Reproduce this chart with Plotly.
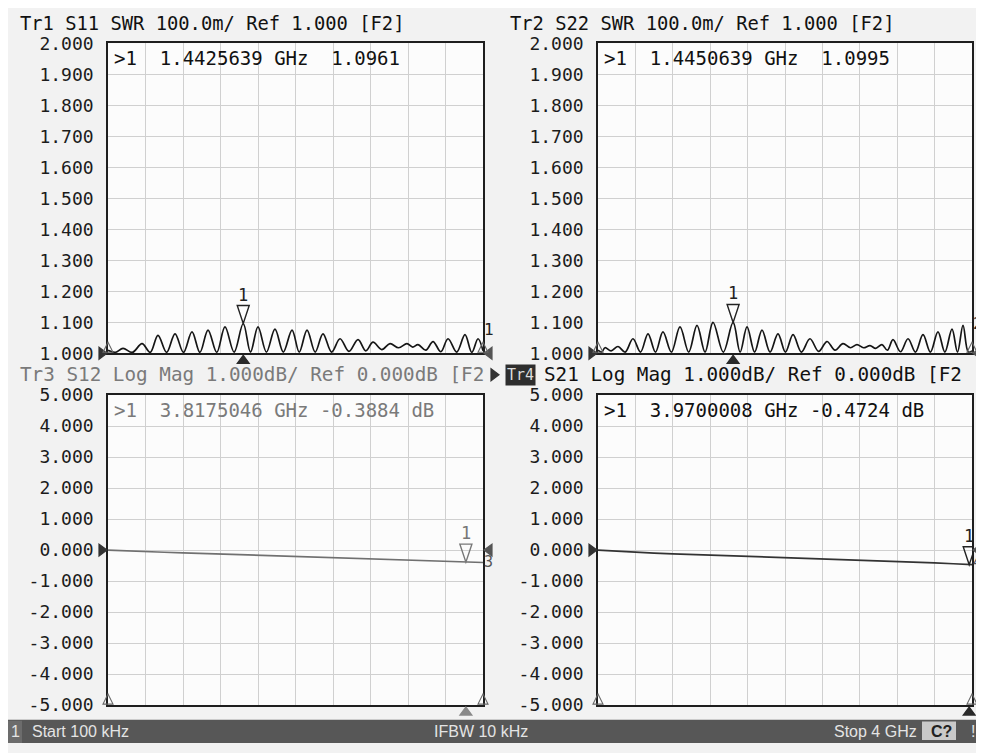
import plotly.graph_objects as go

# ---------------- data ----------------
S11_FREQ = [0.0001, 0.08, 0.16, 0.26, 0.363, 0.45, 0.533, 0.625, 0.715, 0.805, 0.896, 0.98,
            1.067, 1.16, 1.248, 1.345, 1.4425639, 1.52, 1.60, 1.69, 1.781, 1.87, 1.963, 2.04,
            2.123, 2.21, 2.293, 2.385, 2.475, 2.57, 2.667, 2.75, 2.827, 2.92, 3.008, 3.10,
            3.189, 3.25, 3.307, 3.39, 3.467, 3.55, 3.627, 3.72, 3.808, 3.88, 3.947, 4.0]
S11_SWR = [1.010, 1.003, 1.016, 1.003, 1.031, 1.003, 1.058, 1.003, 1.063, 1.003, 1.069, 1.003,
           1.075, 1.003, 1.085, 1.004, 1.0961, 1.004, 1.085, 1.004, 1.078, 1.004, 1.075, 1.004,
           1.075, 1.004, 1.063, 1.004, 1.047, 1.006, 1.044, 1.008, 1.036, 1.012, 1.031, 1.018,
           1.031, 1.020, 1.028, 1.010, 1.038, 1.005, 1.047, 1.004, 1.060, 1.003, 1.047, 1.008]

S22_FREQ = [0.0001, 0.04, 0.075, 0.14, 0.214, 0.29, 0.374, 0.455, 0.535, 0.615, 0.695, 0.785,
            0.877, 0.97, 1.059, 1.145, 1.230, 1.34, 1.4450639, 1.52, 1.594, 1.675, 1.754, 1.84,
            1.925, 2.005, 2.086, 2.175, 2.267, 2.36, 2.449, 2.535, 2.620, 2.70, 2.770, 2.84,
            2.909, 2.97, 3.037, 3.095, 3.155, 3.235, 3.316, 3.395, 3.476, 3.555, 3.636, 3.71,
            3.786, 3.845, 3.904, 3.96, 4.0]
S22_SWR = [1.010, 1.004, 1.018, 1.008, 1.022, 1.004, 1.047, 1.004, 1.063, 1.004, 1.069, 1.004,
           1.085, 1.004, 1.090, 1.004, 1.100, 1.004, 1.0995, 1.004, 1.085, 1.004, 1.075, 1.004,
           1.063, 1.004, 1.060, 1.004, 1.047, 1.006, 1.038, 1.010, 1.031, 1.018, 1.028, 1.018,
           1.025, 1.016, 1.028, 1.010, 1.044, 1.005, 1.047, 1.004, 1.060, 1.004, 1.069, 1.004,
           1.078, 1.004, 1.090, 1.004, 1.008]

S12_FREQ = [0.0001, 0.2, 0.4, 0.6, 0.8, 1.0, 1.2, 1.4, 1.6, 1.8, 2.0, 2.2, 2.4, 2.6, 2.8,
            3.0, 3.2, 3.4, 3.6, 3.8175046, 4.0]
S12_DB = [0.0, -0.03, -0.05, -0.07, -0.09, -0.11, -0.13, -0.15, -0.17, -0.19, -0.21, -0.23,
          -0.25, -0.27, -0.28, -0.30, -0.32, -0.34, -0.36, -0.3884, -0.40]

S21_FREQ = [0.0001, 0.2, 0.4, 0.6, 0.8, 1.0, 1.2, 1.4, 1.6, 1.8, 2.0, 2.2, 2.4, 2.6, 2.8,
            3.0, 3.2, 3.4, 3.6, 3.8, 3.9700008, 4.0]
S21_DB = [0.0, -0.04, -0.07, -0.10, -0.12, -0.14, -0.16, -0.18, -0.20, -0.22, -0.24, -0.26,
          -0.28, -0.30, -0.31, -0.33, -0.36, -0.38, -0.41, -0.44, -0.4724, -0.47]

MARKER_FREQ = [1.4425639, 1.4450639, 3.8175046, 3.9700008]
MARKER_VAL = [1.0961, 1.0995, -0.3884, -0.4724]

SWR_TICKVALS = [1.0, 1.1, 1.2, 1.3, 1.4, 1.5, 1.6, 1.7, 1.8, 1.9, 2.0]
SWR_TICKTEXT = ["1.000", "1.100", "1.200", "1.300", "1.400", "1.500", "1.600", "1.700",
                "1.800", "1.900", "2.000"]
LOG_TICKVALS = [-5, -4, -3, -2, -1, 0, 1, 2, 3, 4, 5]
LOG_TICKTEXT = ["-5.000", "-4.000", "-3.000", "-2.000", "-1.000", "0.000", "1.000", "2.000",
                "3.000", "4.000", "5.000"]

TITLES = ["Tr1 S11 SWR 100.0m/ Ref 1.000 [F2]",
          "Tr2 S22 SWR 100.0m/ Ref 1.000 [F2]",
          "Tr3 S12 Log Mag 1.000dB/ Ref 0.000dB [F2",
          "S21 Log Mag 1.000dB/ Ref 0.000dB [F2"]
READOUTS = [">1  1.4425639 GHz  1.0961",
            ">1  1.4450639 GHz  1.0995",
            ">1  3.8175046 GHz -0.3884 dB",
            ">1  3.9700008 GHz -0.4724 dB"]
CHANNEL_NUM = ["1", "2", "3", "4"]
STATUS = ["1", "Start 100 kHz", "IFBW 10 kHz", "Stop 4 GHz", "C?", "!"]
F_START, F_STOP = 0.0001, 4.0

# ---------------- layout (screen pixels; page body has an 8px margin) ----------------
OFF = 8
W, H = 984 - OFF, 753 - OFF
MONO = "DejaVu Sans Mono"
SANS = "Liberation Sans"


def fx(px):
    return (px - OFF) / W


def fy(py):
    return 1 - (py - OFF) / H


PANELS = [(108, 483, 33, 352), (598, 972, 33, 352), (108, 483, 395, 714), (598, 972, 395, 714)]

traces = [(S11_FREQ, S11_SWR, "#151515"), (S22_FREQ, S22_SWR, "#151515"),
          (S12_FREQ, S12_DB, "#707070"), (S21_FREQ, S21_DB, "#333333")]

fig = go.Figure()
layout = dict(width=W, height=H, autosize=False, margin=dict(l=0, r=0, t=0, b=0),
              paper_bgcolor="#f2f2f2", plot_bgcolor="#fcfcfc", showlegend=False)
annotations = []
shapes = []


def tri(xref, yref, xa_, ya_, path, color, filled=True, width=1.2):
    shapes.append(dict(type="path", xref=xref, yref=yref, xsizemode="pixel",
                       ysizemode="pixel", xanchor=xa_, yanchor=ya_, path=path,
                       line=dict(color=color, width=width),
                       fillcolor=color if filled else "rgba(0,0,0,0)"))


for i in range(4):
    n = "" if i == 0 else str(i + 1)
    xa, ya = "x" + n, "y" + n
    left, right, top, bottom = PANELS[i]
    swr = i < 2
    ylo, yhi = (1.0, 2.0) if swr else (-5.0, 5.0)
    fxs, fys, col = traces[i]
    grey = (i == 2)
    mcol = "#777777" if grey else "#222222"
    tcol = "#7a7a7a" if grey else "#111111"

    fig.add_trace(go.Scatter(x=fxs, y=fys, xaxis=xa, yaxis=ya, mode="lines",
                             line=dict(color=col, width=1.7,
                                       shape="spline" if swr else "linear",
                                       smoothing=1.0 if swr else None),
                             hoverinfo="skip"))
    layout["xaxis" + n] = dict(domain=[fx(left), fx(right)], anchor=ya,
                               range=[F_START, F_STOP], tick0=F_START,
                               dtick=(F_STOP - F_START) / 10, showticklabels=False, ticks="",
                               showgrid=True, gridcolor="#d0d0d0", gridwidth=1, zeroline=False,
                               showline=True, mirror=True, linecolor="#1e1e1e", linewidth=1.6)
    layout["yaxis" + n] = dict(domain=[fy(bottom), fy(top)], anchor=xa, range=[ylo, yhi],
                               tickvals=SWR_TICKVALS if swr else LOG_TICKVALS,
                               ticktext=SWR_TICKTEXT if swr else LOG_TICKTEXT,
                               ticks="", ticklabelstandoff=9,
                               tickfont=dict(family=MONO, size=18, color="#1c1c1c"),
                               showgrid=True, gridcolor="#d0d0d0", gridwidth=1,
                               zeroline=False, showline=True, mirror=True,
                               linecolor="#1e1e1e", linewidth=1.6)

    # readout text
    annotations.append(dict(text=READOUTS[i], xref=xa + " domain", yref=ya + " domain",
                            x=0.01, y=0.995, xanchor="left", yanchor="top", showarrow=False,
                            font=dict(family=MONO, size=19, color=tcol)))

    # marker 1: open elongated down-triangle with its tip on the trace
    mx, mv = MARKER_FREQ[i], MARKER_VAL[i]
    tri(xa, ya, mx, mv, "M -6 18 L 6 18 L 0 0 Z", mcol, filled=False, width=1.4)
    annotations.append(dict(text="1", x=mx, y=mv, xref=xa, yref=ya, showarrow=False,
                            yanchor="middle", yshift=29,
                            font=dict(family=MONO, size=17, color=mcol)))

    xd, yd = xa + " domain", ya + " domain"
    mfrac = (mx - F_START) / (F_STOP - F_START)
    ref = 1.0 if swr else 0.0
    rfrac = (ref - ylo) / (yhi - ylo)
    # filled marker pointer under the axis
    tri(xd, yd, mfrac, 0, "M -6 -10 L 6 -10 L 0 -2 Z", "#8a8a8a" if grey else "#2a2a2a")
    # reference-level pointers at both sides
    tri(xd, yd, 0, rfrac, "M -9 6 L -9 -6 L -1 0 Z", "#333333")
    tri(xd, yd, 1, rfrac, "M 9 6 L 9 -6 L 1 0 Z", "#555555")
    # open stimulus triangles at start / stop
    tri(xd, yd, 0, 0, "M -5 1 L 5 1 L 0 11 Z", "#666666", filled=False, width=1.1)
    tri(xd, yd, 1, 0, "M -5 1 L 5 1 L 0 11 Z", "#666666", filled=False, width=1.1)

    # channel number near the right reference pointer
    if swr:
        annotations.append(dict(text=CHANNEL_NUM[i], x=1, y=ref, xref=xd,
                                yref=ya, showarrow=False, xanchor="left", yanchor="middle",
                                yshift=24 if i == 0 else 30, xshift=-1,
                                font=dict(family=MONO, size=16, color="#222")))
    else:
        annotations.append(dict(text=CHANNEL_NUM[i], x=1, y=ref, xref=xd,
                                yref=ya, showarrow=False, xanchor="left", yanchor="middle",
                                yshift=-12, xshift=-1,
                                font=dict(family=MONO, size=15, color="#555")))

    # panel titles
    tx = 18 if i % 2 == 0 else 508
    ty = 13 if i < 2 else 374
    tsize = 18.8 if i < 2 else 19.3
    if i == 3:
        annotations.append(dict(text="Tr4", x=fx(505), y=fy(ty), xref="paper",
                                yref="paper", xanchor="left", yanchor="middle",
                                showarrow=False, bgcolor="#2e2e2e", borderpad=1,
                                font=dict(family=MONO, size=15, color="#dcdcdc")))
        tri("paper", "paper", fx(491), fy(ty), "M 0 6 L 0 -6 L 8 0 Z", "#333333")
        tx = 542
    annotations.append(dict(text=TITLES[i], x=fx(tx), y=fy(ty), xref="paper",
                            yref="paper", xanchor="left", yanchor="middle", showarrow=False,
                            font=dict(family=MONO, size=tsize, color=tcol)))

# bottom status bar
shapes.append(dict(type="rect", xref="paper", yref="paper", x0=0, x1=1, y0=0, y1=fy(729),
                   fillcolor="#575757", line=dict(width=0), layer="below"))
shapes.append(dict(type="rect", xref="paper", yref="paper", x0=fx(8), x1=fx(22), y0=0,
                   y1=fy(730), fillcolor="#6c6c6c", line=dict(width=0)))
shapes.append(dict(type="rect", xref="paper", yref="paper", x0=fx(922), x1=fx(956), y0=0.004,
                   y1=fy(731), fillcolor="#c9c9c9", line=dict(width=0)))
# right outer frame edge
shapes.append(dict(type="rect", xref="paper", yref="paper", x0=fx(980), x1=1, y0=0, y1=1,
                   fillcolor="#3c3c3c", line=dict(width=0)))

STATUS_X = [9, 30, 432, 832, 929, 969]
for txt, x in zip(STATUS, STATUS_X):
    bold = txt == "C?"
    annotations.append(dict(text="<b>" + txt + "</b>" if bold else txt,
                            x=fx(x), y=fy(741), xref="paper", yref="paper", xanchor="left",
                            yanchor="middle", showarrow=False,
                            font=dict(family=SANS, size=16,
                                      color="#222222" if bold else "#e4e4e4")))

layout["annotations"] = annotations
layout["shapes"] = shapes
fig.update_layout(**layout)
fig.write_html("out.html")
